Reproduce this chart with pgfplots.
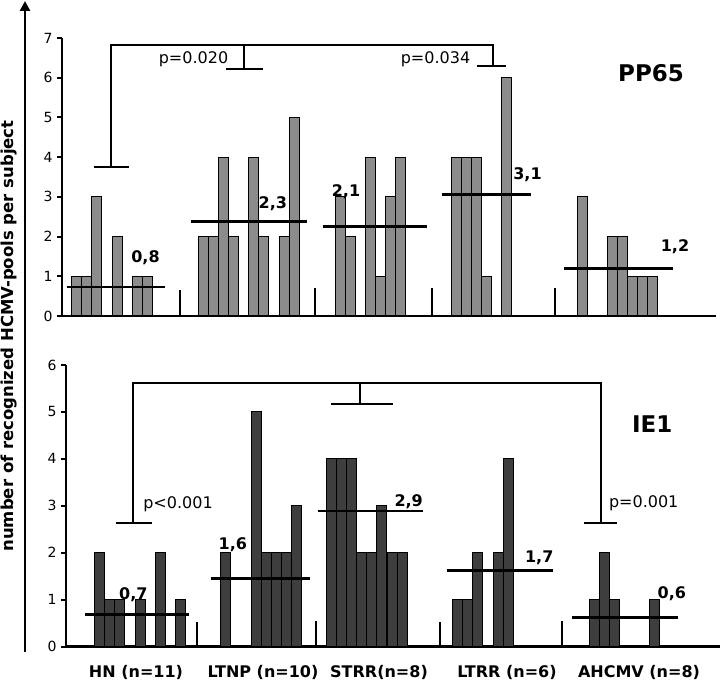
\documentclass[border=0pt]{standalone}
\usepackage{pgfplots}
\pgfplotsset{compat=1.18}
\usepackage{fontspec}
\setmainfont{DejaVu Sans}
\usetikzlibrary{arrows.meta}
\definecolor{topgray}{RGB}{140,140,140}
\definecolor{botgray}{RGB}{62,62,62}
\newcommand{\tickfont}{\fontsize{14}{16}\selectfont}
\newcommand{\numfont}{\bfseries\fontsize{16}{19}\selectfont}
\newcommand{\pfont}{\fontsize{16}{19}\selectfont}
\newcommand{\bigfont}{\bfseries\fontsize{23}{27}\selectfont}
\tikzset{brk/.style={line width=2pt, black}}
\begin{document}
\begin{tikzpicture}[x=1pt,y=1pt]
\useasboundingbox (0,0) rectangle (720,692);
\pgfplotsset{
  panel/.style={
    scale only axis, anchor=south west,
    axis x line=bottom, axis y line=left,
    axis line style={-, line width=2.8pt},
    xtick=\empty,
    tick align=outside, major tick length=5pt,
    tick style={line width=2pt, black},
    yticklabel style={font=\tickfont, xshift=-1pt},
    /pgf/number format/assume math mode=true,
    clip=false,
  },
  mean/.style={black, line width=2.8pt, no marks, forget plot},
  sep/.style={black, line width=1.6pt, no marks, forget plot},
}
% ---------------- top panel: PP65
\begin{axis}[panel, width=654pt, height=278pt, at={(62pt,376pt)},
  xmin=62, xmax=716, ymin=0, ymax=7, ytick={0,...,7}]
\addplot[ybar, bar width=10, fill=topgray, draw=black, line width=1pt] coordinates {
  (76.7,1) (86.7,1) (96.9,3) (117.3,2) (137.7,1) (147.7,1)
  (203.3,2) (213.3,2) (223.3,4) (233.3,2) (253.3,4) (263.3,2) (284.3,2) (294.3,5)
  (340,3) (350,2) (370,4) (380,1) (390,3) (400,4)
  (456,4) (466,4) (476,4) (486,1) (506.3,6)
  (582.7,3) (612.7,2) (622.7,2) (632.7,1) (642.7,1) (652.7,1)
};
\addplot[mean] coordinates {(66.7,0.73) (165,0.73)};
\addplot[mean] coordinates {(190.7,2.37) (307.3,2.37)};
\addplot[mean] coordinates {(323.3,2.25) (426.7,2.25)};
\addplot[mean] coordinates {(441.7,3.05) (531,3.05)};
\addplot[mean] coordinates {(564.3,1.2) (673.3,1.2)};
\addplot[sep] coordinates {(180,0) (180,0.66)};
\addplot[sep] coordinates {(315,0) (315,0.71)};
\addplot[sep] coordinates {(431.7,0) (431.7,0.71)};
\addplot[sep] coordinates {(555,0) (555,0.71)};
\draw[brk] (axis cs:110.7,3.76) -- (axis cs:110.7,6.824) -- (axis cs:493.3,6.824) -- (axis cs:493.3,6.30);
\draw[brk] (axis cs:94.3,3.76) -- (axis cs:129.3,3.76);
\draw[brk] (axis cs:244.3,6.824) -- (axis cs:244.3,6.21);
\draw[brk] (axis cs:225.7,6.21) -- (axis cs:262.7,6.21);
\draw[brk] (axis cs:477.3,6.30) -- (axis cs:505.7,6.30);
\node[font=\pfont] at (axis cs:193.5,6.47) {p=0.020};
\node[font=\pfont] at (axis cs:435.5,6.47) {p=0.034};
\node[font=\bigfont] at (axis cs:651,6.11) {PP65};
\node[font=\numfont] at (axis cs:145.5,1.468) {0,8};
\node[font=\numfont] at (axis cs:272.8,2.838) {2,3};
\node[font=\numfont] at (axis cs:346,3.13) {2,1};
\node[font=\numfont] at (axis cs:527.5,3.55) {3,1};
\node[font=\numfont] at (axis cs:675,1.745) {1,2};
\end{axis}
% ---------------- bottom panel: IE1
\begin{axis}[panel, width=654pt, height=281.7pt, at={(66pt,45.3pt)},
  xmin=66, xmax=720, ymin=0, ymax=6, ytick={0,...,6}]
\addplot[ybar, bar width=10, fill=botgray, draw=black, line width=1pt] coordinates {
  (99.3,2) (109.3,1) (119.3,1) (140,1) (160,2) (180.3,1)
  (225.3,2) (256.2,5) (266.2,2) (276.2,2) (286.2,2) (296.2,3)
  (331.7,4) (341.7,4) (351.7,4) (361.7,2) (371.7,2) (381.7,3) (392.3,2) (402.3,2)
  (457.7,1) (467.7,1) (477.7,2) (498.3,2) (508.3,4)
  (594,1) (604,2) (614,1) (654.7,1)
};
\addplot[mean] coordinates {(85,0.69) (189,0.69)};
\addplot[mean] coordinates {(210.7,1.45) (310,1.45)};
\addplot[mean] coordinates {(317.7,2.89) (423.3,2.89)};
\addplot[mean] coordinates {(446.7,1.62) (553.3,1.62)};
\addplot[mean] coordinates {(572.3,0.62) (678.3,0.62)};
\addplot[sep] coordinates {(196.7,0) (196.7,0.53)};
\addplot[sep] coordinates {(316,0) (316,0.55)};
\addplot[sep] coordinates {(440,0) (440,0.53)};
\addplot[sep] coordinates {(561.7,0) (561.7,0.55)};
\draw[brk] (axis cs:133.3,2.629) -- (axis cs:133.3,5.624) -- (axis cs:601,5.624) -- (axis cs:601,2.629);
\draw[brk] (axis cs:115.7,2.629) -- (axis cs:151.7,2.629);
\draw[brk] (axis cs:584,2.629) -- (axis cs:616.7,2.629);
\draw[brk] (axis cs:360,5.624) -- (axis cs:360,5.164);
\draw[brk] (axis cs:330.7,5.164) -- (axis cs:393.3,5.164);
\node[font=\pfont] at (axis cs:178,3.033) {p<0.001};
\node[font=\pfont] at (axis cs:643.7,3.055) {p=0.001};
\node[font=\bigfont] at (axis cs:652.3,4.738) {IE1};
\node[font=\numfont] at (axis cs:133.3,1.10) {0,7};
\node[font=\numfont] at (axis cs:232.8,2.17) {1,6};
\node[font=\numfont] at (axis cs:408.7,3.09) {2,9};
\node[font=\numfont] at (axis cs:539.2,1.90) {1,7};
\node[font=\numfont] at (axis cs:671.8,1.12) {0,6};
\end{axis}
% ---------------- frame elements
\draw[line width=2.8pt, -{Triangle[width=10pt,length=10pt]}] (25,40) -- (25,691);
\node[rotate=90, font=\bfseries\fontsize{16.5}{19}\selectfont] at (9,356) {number of recognized HCMV-pools per subject};
\node[font=\bfseries\fontsize{16}{19}\selectfont] at (136,20) {HN (n=11)};
\node[font=\bfseries\fontsize{16}{19}\selectfont] at (263,20) {LTNP (n=10)};
\node[font=\bfseries\fontsize{16}{19}\selectfont] at (379,20) {STRR(n=8)};
\node[font=\bfseries\fontsize{16}{19}\selectfont] at (507,20) {LTRR (n=6)};
\node[font=\bfseries\fontsize{16}{19}\selectfont] at (639,20) {AHCMV (n=8)};
\end{tikzpicture}
\end{document}
